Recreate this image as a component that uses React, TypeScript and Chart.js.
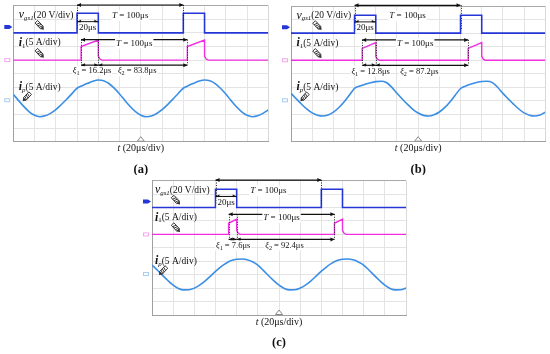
import React, { useEffect, useRef } from "react";
import { Chart, registerables } from "chart.js";
Chart.register(...registerables);

// ---------- DATA ----------
const ipTimes = [0, 5, 10, 15, 20, 25, 30, 35, 40, 45, 50, 55, 60, 65, 70, 75, 80, 85, 90, 95,
  100, 105, 110, 115, 120, 125, 130, 135, 140, 145, 150, 155, 160, 165, 170, 175, 180, 185, 190, 195,
  200, 205, 210, 215, 220, 225, 230, 235, 240];

const ipA = [3.49, 3.02, 2.58, 2.20, 1.94, 1.84, 1.90, 2.08, 2.36, 2.72, 3.10, 3.52, 3.93, 4.12, 4.29, 4.45, 4.54, 4.49, 4.28, 3.94,
  3.51, 3.03, 2.59, 2.21, 1.95, 1.84, 1.89, 2.07, 2.35, 2.71, 3.11, 3.53, 3.93, 4.13, 4.30, 4.46, 4.54, 4.48, 4.27, 3.93,
  3.50, 3.02, 2.57, 2.20, 1.94, 1.84, 1.90, 2.08, 2.33];
const ipB = [3.56, 3.16, 2.76, 2.40, 2.12, 1.95, 1.89, 1.97, 2.18, 2.50, 2.92, 3.42, 3.93, 4.10, 4.24, 4.35, 4.43, 4.46, 4.36, 4.02,
  3.57, 3.15, 2.75, 2.39, 2.11, 1.94, 1.89, 1.98, 2.19, 2.51, 2.93, 3.43, 3.92, 4.11, 4.25, 4.36, 4.44, 4.45, 4.35, 4.01,
  3.56, 3.16, 2.77, 2.41, 2.12, 1.95, 1.89, 1.97, 2.18];
const ipC = [3.72, 3.35, 2.95, 2.57, 2.23, 1.98, 1.87, 1.88, 2.00, 2.22, 2.52, 2.88, 3.25, 3.58, 3.85, 4.05, 4.15, 4.17, 4.12, 3.96,
  3.71, 3.34, 2.94, 2.56, 2.22, 1.98, 1.87, 1.88, 2.01, 2.23, 2.53, 2.89, 3.26, 3.59, 3.86, 4.06, 4.15, 4.17, 4.11, 3.95,
  3.72, 3.35, 2.95, 2.57, 2.23, 1.98, 1.87, 1.88, 2.00];

const vgsTimes = [0, 60, 60, 80, 80, 160, 160, 180, 180, 240];
const vgsA = [8, 8, 9.44, 9.44, 8, 8, 9.44, 9.44, 8, 8];
const vgsB = [8, 8, 9.32, 9.32, 8, 8, 9.32, 9.32, 8, 8];
const vgsC = [8, 8, 9.36, 9.36, 8, 8, 9.36, 9.36, 8, 8];

const i1TimesA = [0, 63.8, 63.8, 80, 80, 81.5, 83.5, 163.8, 163.8, 180, 180, 181.5, 183.5, 240];
const i1TimesB = [0, 67.2, 67.2, 80, 80, 81.5, 83.5, 167.2, 167.2, 180, 180, 181.5, 183.5, 240];
const i1TimesC = [0, 72.4, 72.4, 80, 80, 81.5, 83.5, 172.4, 172.4, 180, 180, 181.5, 183.5, 240];
const i1A = [6, 6, 7.0, 7.48, 6.3, 6.08, 6, 6, 7.0, 7.48, 6.3, 6.08, 6, 6];
const i1B = [6, 6, 6.87, 7.3, 6.3, 6.08, 6, 6, 6.87, 7.3, 6.3, 6.08, 6, 6];
const i1C = [6, 6, 6.83, 7.13, 6.3, 6.08, 6, 6, 6.83, 7.13, 6.3, 6.08, 6, 6];

const xi1Labels = ["16.2μs", "12.8μs", "7.6μs"];
const xi2Labels = ["83.8μs", "87.2μs", "92.4μs"];
const panelLabels = ["(a)", "(b)", "(c)"];

// ---------- LAYOUT ----------
const panels = [
  { left: 0, top: 0, w: 275, h: 175, pad: { left: 13.3, top: 5.7, right: 6.7, bottom: 33.3 },
    ip: ipA, vgs: vgsA, i1t: i1TimesA, i1: i1A, start: 63.8, xi1T: 56, xi2T: 98.5, labOff: 5.5 },
  { left: 275, top: 0, w: 275, h: 175, pad: { left: 16, top: 6, right: 4.7, bottom: 33.3 },
    ip: ipB, vgs: vgsB, i1t: i1TimesB, i1: i1B, start: 67.2, xi1T: 57, xi2T: 103, labOff: 5.5 },
  { left: 137, top: 175, w: 275, h: 179, pad: { left: 15, top: 5.7, right: 6, bottom: 39 },
    ip: ipC, vgs: vgsC, i1t: i1TimesC, i1: i1C, start: 72.4, xi1T: 60.5, xi2T: 107, labOff: 3 },
];

const SERIF = '"Liberation Serif", "Times New Roman", serif';
const BLUE = "#2436d6";
const PINK = "#f02ee0";
const LBLUE = "#3a8ee6";

type Seg = [string, string];

function drawRich(ctx: CanvasRenderingContext2D, x: number, y: number, segs: Seg[], size: number, align: string, bg?: boolean) {
  const fontFor = (st: string) => {
    const sub = st.includes("s");
    const sz = sub ? size * 0.72 : st.includes("L") ? size * 1.25 : size;
    return `${st.includes("b") ? "bold " : ""}${st.includes("i") ? "italic " : ""}${sz}px ${SERIF}`;
  };
  let total = 0;
  const widths = segs.map(([t, st]) => { ctx.font = fontFor(st); const w = ctx.measureText(t).width; total += w; return w; });
  let cx = align === "center" ? x - total / 2 : align === "right" ? x - total : x;
  if (bg) {
    ctx.fillStyle = "#fff";
    ctx.fillRect(cx - 1, y - size * 0.6, total + 2, size * 1.2);
  }
  ctx.fillStyle = "#111";
  ctx.textAlign = "left";
  ctx.textBaseline = "middle";
  segs.forEach(([t, st], i) => {
    ctx.font = fontFor(st);
    ctx.fillText(t, cx, st.includes("s") ? y + size * 0.3 : y);
    cx += widths[i];
  });
}

function arrowLine(ctx: CanvasRenderingContext2D, x1: number, x2: number, y: number) {
  ctx.strokeStyle = "#111";
  ctx.fillStyle = "#111";
  ctx.lineWidth = 1.2;
  ctx.setLineDash([]);
  ctx.beginPath(); ctx.moveTo(x1, y); ctx.lineTo(x2, y); ctx.stroke();
  ctx.beginPath();
  ctx.moveTo(x1, y); ctx.lineTo(x1 + 4, y - 2); ctx.lineTo(x1 + 4, y + 2); ctx.closePath(); ctx.fill();
  ctx.beginPath();
  ctx.moveTo(x2, y); ctx.lineTo(x2 - 4, y - 2); ctx.lineTo(x2 - 4, y + 2); ctx.closePath(); ctx.fill();
}

function dotted(ctx: CanvasRenderingContext2D, x: number, y1: number, y2: number) {
  ctx.strokeStyle = "#222";
  ctx.lineWidth = 1;
  ctx.setLineDash([1, 1.5]);
  ctx.beginPath(); ctx.moveTo(Math.round(x) + 0.5, y1); ctx.lineTo(Math.round(x) + 0.5, y2); ctx.stroke();
  ctx.setLineDash([]);
}

function probe(ctx: CanvasRenderingContext2D, x: number, y: number, ang: number) {
  ctx.save();
  ctx.translate(x, y);
  ctx.rotate(ang);
  ctx.strokeStyle = "#333";
  ctx.lineWidth = 0.9;
  ctx.strokeRect(-1.8, -5, 3.6, 8);
  for (let k = -3; k <= 1; k += 2) { ctx.beginPath(); ctx.moveTo(-1.8, k); ctx.lineTo(1.8, k + 1.2); ctx.stroke(); }
  ctx.fillStyle = "#333";
  ctx.beginPath(); ctx.moveTo(-2.2, 3); ctx.lineTo(2.2, 3); ctx.lineTo(0, 6); ctx.closePath(); ctx.fill();
  ctx.restore();
}

function makePlugin(p: any, idx: number) {
  return {
    id: "annot" + idx,
    afterDatasetsDraw(chart: any) {
      const { ctx, chartArea: ca, scales } = chart;
      const X = (t: number) => scales.x.getPixelForValue(t);
      const Y = (v: number) => scales.y.getPixelForValue(v);
      ctx.save();
      // channel markers
      const mx = ca.left - 9;
      ctx.fillStyle = BLUE;
      ctx.beginPath();
      const my = Y(8) - 6;
      ctx.moveTo(mx, my - 2); ctx.lineTo(mx + 5, my - 2); ctx.lineTo(mx + 8, my); ctx.lineTo(mx + 5, my + 2); ctx.lineTo(mx, my + 2); ctx.closePath(); ctx.fill();
      ctx.strokeStyle = "#f6a6ee"; ctx.lineWidth = 1;
      ctx.strokeRect(mx + 0.5, Y(6) - 1.5, 5, 3);
      ctx.strokeStyle = "#a9cdf2";
      ctx.strokeRect(mx + 0.5, Y(3.05) - 1.5, 5, 3);

      // trigger marker
      const tx = X(120), ty = Y(0);
      ctx.strokeStyle = "#888"; ctx.fillStyle = "#fff"; ctx.lineWidth = 1;
      ctx.beginPath(); ctx.moveTo(tx - 3.5, ty - 0.5); ctx.lineTo(tx, ty - 5); ctx.lineTo(tx + 3.5, ty - 0.5); ctx.closePath(); ctx.fill(); ctx.stroke();

      // vgs T measurement
      dotted(ctx, X(60), Y(10.05), Y(8.2));
      dotted(ctx, X(160), Y(10.05), Y(8.2));
      arrowLine(ctx, X(60), X(160), Y(10.05));
      drawRich(ctx, X(110), Y(9.26), [["T", "i"], [" = 100μs", "n"]], 9, "center", true);
      arrowLine(ctx, X(60), X(80), Y(8.82));
      drawRich(ctx, X(70), Y(8.38), [["20μs", "n"]], 9, "center", true);

      // i1 measurement
      const s = p.start;
      dotted(ctx, X(s), Y(7.5), Y(5.63));
      dotted(ctx, X(80), Y(7.5), Y(5.63));
      dotted(ctx, X(s + 100), Y(7.5), Y(5.63));
      arrowLine(ctx, X(s), X(s + 100), Y(7.5));
      drawRich(ctx, X(s + 50), Y(7.24), [["T", "i"], [" = 100μs", "n"]], 9, "center", true);
      arrowLine(ctx, X(s), X(80), Y(5.63));
      arrowLine(ctx, X(80), X(s + 100), Y(5.63));
      drawRich(ctx, X(p.xi1T), Y(5.18), [["ξ", "i"], ["1", "s"], [" = " + xi1Labels[idx], "n"]], 8.5, "left", true);
      drawRich(ctx, X(p.xi2T), Y(5.18), [["ξ", "i"], ["2", "s"], [" = " + xi2Labels[idx], "n"]], 8.5, "left", true);

      // channel labels
      const lx = ca.left + p.labOff;
      drawRich(ctx, lx, Y(9.3), [["v", "iL"], ["gs1", "is"], ["(20 V/div)", "n"]], 9.5, "left");
      probe(ctx, lx + 21, Y(8.55), -0.75);
      drawRich(ctx, lx, Y(7.26), [["i", "biL"], ["1", "s"], ["(5 A/div)", "n"]], 9.5, "left");
      probe(ctx, lx + 21, Y(6.5), -0.75);
      drawRich(ctx, lx, Y(4.0), [["i", "biL"], ["p", "is"], ["(5 A/div)", "n"]], 9.5, "left");
      probe(ctx, lx + 8, Y(3.3), 0.75);

      // axis label & panel label
      drawRich(ctx, X(120), ca.bottom + 7, [["t", "i"], [" (20μs/div)", "n"]], 10, "center");
      drawRich(ctx, X(120), ca.bottom + 28, [[panelLabels[idx], "b"]], 12.5, "center");
      ctx.restore();
    },
  };
}

function Panel({ p, idx }: { p: any; idx: number }) {
  const ref = useRef<HTMLCanvasElement>(null);
  useEffect(() => {
    const canvas = ref.current!;
    const toPts = (xs: number[], ys: number[]) => xs.map((x, i) => ({ x, y: ys[i] }));
    const chart = new Chart(canvas, {
      type: "line",
      data: {
        datasets: [
          { data: toPts(ipTimes, p.ip), borderColor: LBLUE, borderWidth: 1.6, pointRadius: 0, cubicInterpolationMode: "monotone" },
          { data: toPts(vgsTimes, p.vgs), borderColor: BLUE, borderWidth: 1.6, pointRadius: 0, tension: 0 },
          { data: toPts(p.i1t, p.i1), borderColor: PINK, borderWidth: 1.4, pointRadius: 0, tension: 0 },
        ],
      },
      options: {
        animation: false,
        responsive: false,
        maintainAspectRatio: false,
        layout: { padding: p.pad },
        plugins: { legend: { display: false }, tooltip: { enabled: false } },
        scales: {
          x: {
            type: "linear", min: 0, max: 240,
            ticks: { display: false, stepSize: 20 },
            grid: { color: (c: any) => (c.tick && c.tick.value === 240 ? "#d8d8d8" : "#e4e4e4"), drawTicks: false, lineWidth: 1 },
            border: { color: "#a0a0a0", width: 1 },
          },
          y: {
            min: 0, max: 10,
            ticks: { display: false, stepSize: 1 },
            grid: { color: (c: any) => (c.tick && c.tick.value === 10 ? "#a8a8a8" : "#e4e4e4"), drawTicks: false, lineWidth: 1 },
            border: { color: "#a0a0a0", width: 1 },
          },
        },
      },
      plugins: [makePlugin(p, idx)],
    } as any);
    return () => chart.destroy();
  }, []);
  return (
    <canvas ref={ref} width={p.w} height={p.h}
      style={{ position: "absolute", left: p.left, top: p.top, width: p.w, height: p.h }} />
  );
}

export default function App() {
  return (
    <div style={{ position: "absolute", left: 0, top: 0, width: 550, height: 354, background: "#fff" }}>
      {panels.map((p, i) => <Panel key={i} p={p} idx={i} />)}
    </div>
  );
}
